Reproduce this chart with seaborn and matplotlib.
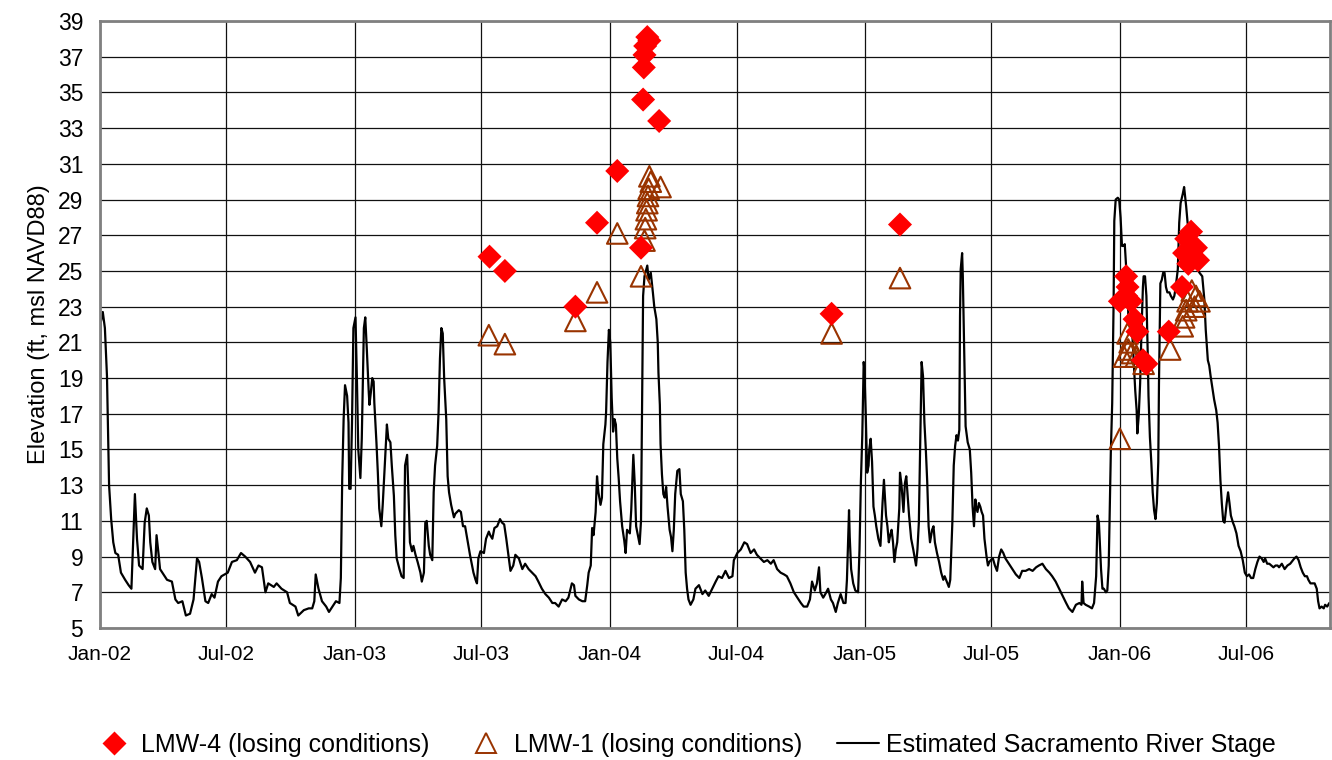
import numpy as np
import pandas as pd
import seaborn as sns
import matplotlib.pyplot as plt
from matplotlib.lines import Line2D
import matplotlib.dates as mdates

# Estimated Sacramento River stage (days after 2002-01-01, ft msl NAVD88)
stage_day = [0, 1, 4, 7, 10, 12, 13, 16, 19, 22, 26, 30, 36, 41, 45, 50, 53, 56, 61, 64, 67, 70, 72, 75, 79, 81, 84, 86, 91, 96,
             103, 108, 112, 118, 123, 129, 134, 139, 142, 146, 151, 155, 160, 164, 169, 174, 183, 189, 196, 202, 208, 215, 222,
             227, 232, 237, 241, 249, 253, 260, 268, 272, 280, 284, 292, 299, 304, 307, 309, 313, 318, 324, 328, 333, 338, 343,
             345, 347, 349,
             351, 354, 356, 357, 359, 361, 363, 366, 368, 370, 373, 375, 378, 380, 382, 385, 386, 388, 390, 392, 393, 396, 398,
             400, 403, 405, 408, 411, 413, 416, 418, 421, 423, 425, 429, 432, 435, 437, 440, 442, 444, 447, 449, 452, 455, 459,
             461, 464, 466, 468, 471, 473, 476, 478, 480, 483, 485, 487, 489, 491, 493, 496, 498, 500, 503, 507, 509, 514, 517,
             520, 523, 526, 530, 533, 535, 538, 540, 542, 545, 550, 553, 557, 559, 562, 565, 569, 573, 576, 579, 582, 585, 588,
             592, 595, 600, 605, 609, 614, 619, 624, 628, 633, 638, 643, 648, 652, 657, 662, 667, 671, 676, 679, 681, 686, 691,
             695, 698, 700, 703, 705, 707, 710, 712, 714, 717,
             719, 721, 723, 724, 725, 727, 729, 731, 733, 735, 737, 739, 741, 743, 745, 748, 751, 753, 755, 759, 761, 764, 766,
             768, 771, 773, 775, 777, 778, 780, 784, 786, 789, 792, 794, 797, 799, 800, 802, 803, 805, 807, 809, 811, 813, 816,
             818, 820, 822, 824, 827, 830, 832, 835, 837, 839, 841, 843, 846, 850, 853, 858, 863, 867, 872, 877, 882, 886, 891,
             896, 901, 906, 908, 913, 918, 923, 927, 932, 937, 941, 946, 951, 956, 961, 965, 970, 975, 980, 984, 989, 994, 999,
             1004, 1008, 1013, 1017, 1020, 1024, 1027, 1030, 1032, 1036, 1039, 1043, 1047, 1050, 1054, 1057, 1061, 1065, 1068,
             1070, 1073, 1074, 1076, 1079,
             1082, 1086, 1088, 1090, 1092, 1094, 1095, 1097, 1099, 1101, 1102, 1104, 1106, 1108, 1110, 1112, 1115, 1118, 1121,
             1123, 1124, 1126, 1128, 1130, 1132, 1134, 1136, 1138, 1140, 1142, 1145, 1146, 1148, 1151, 1153, 1155, 1157, 1159,
             1162, 1165, 1168, 1169, 1171, 1173, 1175, 1177, 1179, 1181, 1183, 1185, 1187, 1189, 1192, 1194, 1196, 1199, 1202,
             1205, 1208, 1210, 1213, 1216, 1218, 1221, 1223, 1225, 1227, 1229, 1231, 1232, 1233, 1235, 1236, 1238, 1240, 1243,
             1246, 1248, 1250, 1252, 1254, 1255, 1257, 1259, 1261, 1263, 1265, 1267, 1270, 1272, 1274, 1276, 1279, 1282, 1285,
             1288, 1291, 1294, 1297, 1302, 1307, 1312, 1317, 1321, 1326, 1331, 1336, 1341, 1345, 1350, 1355, 1360, 1364, 1369,
             1374, 1379, 1384, 1388, 1393, 1398, 1403, 1406, 1407, 1409, 1412, 1417, 1421, 1424, 1427, 1429, 1431, 1434, 1436,
             1438, 1441,
             1443, 1445, 1447, 1448, 1450, 1452, 1453, 1455, 1458, 1460, 1462, 1464, 1466, 1468, 1470, 1472, 1473, 1475, 1477,
             1479, 1481, 1483, 1485, 1486, 1488, 1490, 1492, 1494, 1495, 1497, 1499, 1501, 1502, 1504, 1506, 1508, 1510, 1512,
             1514, 1516, 1517, 1519, 1521, 1523, 1525, 1527, 1529, 1532, 1534, 1537, 1539, 1541, 1544, 1546, 1548, 1551, 1553,
             1556, 1558, 1560, 1564, 1568, 1571, 1575, 1579, 1582, 1584, 1587, 1589, 1591, 1594, 1596, 1599, 1601, 1603, 1605,
             1607, 1609, 1611, 1614, 1616, 1618, 1620, 1623, 1625, 1628, 1631, 1634, 1637, 1640, 1643, 1646, 1649, 1652, 1655,
             1658, 1661, 1664, 1667, 1669, 1672, 1675, 1678, 1681, 1684, 1687, 1689, 1693, 1697, 1701, 1705, 1709, 1711, 1714,
             1717, 1720, 1723, 1726, 1729, 1731, 1734, 1737, 1740, 1743, 1745, 1747, 1750, 1753, 1755, 1758, 1761]
stage_ft = [15.2, 22.1, 22.7, 21.8, 19.1, 15.2, 13.0, 11.1, 9.8, 9.2, 9.1, 8.1, 7.7, 7.4, 7.2, 12.5, 10.0, 8.5, 8.3, 10.9, 11.7,
            11.3, 9.8, 8.7, 8.3, 10.2, 9.1, 8.3, 8.0, 7.7, 7.6, 6.6, 6.4, 6.5, 5.7, 5.8, 6.6, 8.9, 8.7, 7.8, 6.5, 6.4, 6.9,
            6.7, 7.6, 7.9, 8.1, 8.7, 8.8, 9.2, 9.0, 8.7, 8.1, 8.5, 8.4, 7.0, 7.5, 7.3, 7.5, 7.2, 7.0, 6.4, 6.2, 5.7, 6.0, 6.1,
            6.1, 6.5, 8.0, 7.2, 6.5, 6.2, 5.9, 6.2, 6.5, 6.4, 7.8, 13.4, 16.7,
            18.6, 18.0, 16.5, 12.8, 12.8, 16.5, 21.8, 22.4, 19.0, 15.0, 13.4, 15.6, 21.8, 22.4, 20.8, 18.2, 17.5, 18.2, 19.0,
            18.8, 17.6, 15.4, 13.7, 11.7, 10.7, 11.9, 14.1, 16.4, 15.6, 15.4, 14.1, 12.4, 10.2, 8.9, 8.3, 7.9, 7.8, 14.1, 14.7,
            12.4, 9.8, 9.3, 9.6, 9.1, 8.7, 8.1, 7.6, 8.1, 10.9, 11.0, 9.6, 9.1, 8.8, 12.6, 14.1, 15.2, 17.1, 20.1, 21.8, 21.5,
            19.0, 16.7, 13.5, 12.6, 11.9, 11.2, 11.4, 11.6, 11.5, 10.7, 10.7, 10.0, 9.1, 8.5, 8.1, 7.7, 7.5, 8.9, 9.3, 9.2,
            10.0, 10.4, 10.2, 10.0, 10.6, 10.7, 11.1, 10.9, 10.8, 10.0, 9.1, 8.2, 8.5, 9.1, 8.9, 8.3, 8.6, 8.3, 8.1, 7.9, 7.6,
            7.2, 6.9, 6.7, 6.4, 6.4, 6.2, 6.6, 6.5, 6.7, 7.5, 7.4, 6.8, 6.6, 6.5, 6.5, 7.4, 8.1, 8.5, 10.6, 10.2, 11.5, 13.5,
            12.6, 11.9,
            12.3, 15.3, 16.0, 16.4, 17.1, 19.9, 21.7, 21.0, 17.9, 16.0, 16.7, 16.4, 14.5, 13.4, 12.1, 10.7, 9.9, 9.2, 10.5,
            10.3, 11.6, 14.7, 13.1, 10.7, 10.1, 9.7, 11.0, 19.3, 23.6, 24.7, 25.3, 24.5, 24.9, 23.8, 23.0, 22.3, 21.0, 19.3,
            17.5, 15.3, 13.6, 12.5, 12.3, 12.9, 11.8, 10.5, 10.1, 9.3, 10.5, 12.5, 13.8, 13.9, 12.5, 12.1, 10.5, 8.1, 7.2,
            6.6, 6.3, 6.6, 7.2, 7.4, 6.9, 7.1, 6.8, 7.2, 7.6, 7.9, 7.8, 8.2, 7.8, 7.9, 8.8, 9.2, 9.4, 9.8, 9.7, 9.2, 9.4, 9.1,
            8.9, 8.7, 8.8, 8.6, 8.8, 8.3, 8.1, 8.0, 7.9, 7.5, 7.0, 6.7, 6.4, 6.2, 6.2, 6.6, 7.6, 7.1, 7.5, 8.4, 7.0, 6.7, 6.9,
            7.2, 6.6, 6.4, 5.9, 6.4, 6.9, 6.4, 6.4, 7.7, 11.6, 10.1, 8.3, 7.5,
            7.1, 7.0, 9.4, 13.2, 15.8, 19.9, 19.5, 16.9, 13.7, 14.1, 15.0, 15.6, 14.3, 11.8, 11.3, 10.7, 10.0, 9.6, 12.0, 13.3,
            12.6, 11.3, 10.7, 9.8, 10.2, 10.5, 9.8, 8.7, 9.4, 9.8, 11.7, 13.7, 13.1, 11.5, 13.1, 13.5, 12.4, 11.3, 10.0, 9.4,
            8.7, 8.5, 9.4, 10.9, 15.4, 19.9, 19.1, 16.5, 15.0, 13.2, 10.7, 9.8, 10.5, 10.7, 9.8, 9.2, 8.7, 8.1, 7.7, 7.9, 7.6,
            7.3, 7.7, 10.9, 14.1, 15.2, 15.8, 15.5, 16.1, 22.5, 25.1, 26.0, 24.7, 20.6, 16.3, 15.4, 15.0, 13.7, 11.8, 10.7,
            12.2, 11.8, 11.5, 12.0, 11.8, 11.5, 11.3, 10.0, 9.0, 8.5, 8.7, 8.8, 8.9, 8.5, 8.2, 9.0, 9.4, 9.2, 8.9, 8.6, 8.3,
            8.0, 7.8, 8.2, 8.2, 8.3, 8.2, 8.4, 8.5, 8.6, 8.3, 8.1, 7.9, 7.6, 7.2, 6.8, 6.4, 6.1, 5.9, 6.3, 6.4, 6.3, 7.6, 6.4,
            6.3, 6.2, 6.1, 6.4, 7.9, 11.3, 10.9, 8.3, 7.2, 7.2, 7.0,
            7.1, 8.5, 12.9, 14.8, 17.6, 23.2, 27.8, 29.0, 29.1, 29.0, 28.0, 26.4, 26.4, 26.5, 25.2, 24.1, 22.6, 22.4, 22.4,
            21.3, 19.8, 18.3, 17.2, 15.9, 16.9, 18.7, 21.7, 24.1, 24.7, 24.7, 23.6, 20.2, 18.0, 15.7, 14.3, 12.6, 11.6, 11.1,
            12.0, 14.3, 18.7, 24.3, 24.5, 24.9, 24.9, 24.1, 23.8, 23.8, 23.6, 23.4, 23.6, 24.1, 25.1, 27.7, 28.8, 29.3, 29.7,
            28.6, 27.7, 27.3, 26.5, 25.8, 25.2, 24.9, 24.7, 23.4, 21.7, 20.0, 19.7, 19.1, 18.3, 17.8, 17.2, 16.5, 15.2, 13.3,
            12.0, 11.0, 10.9, 12.0, 12.6, 12.0, 11.3, 10.9, 10.7, 10.3, 9.6, 9.3, 8.8, 8.1, 7.9, 8.0, 7.8, 7.8, 8.3, 8.7, 9.0,
            8.9, 8.7, 8.9, 8.6, 8.6, 8.5, 8.4, 8.5, 8.5, 8.4, 8.6, 8.3, 8.5, 8.6, 8.8, 8.9, 9.0, 8.8, 8.4, 8.1, 7.9, 7.9, 7.7,
            7.5, 7.5, 7.5, 7.2, 6.5, 6.1, 6.2, 6.1, 6.3, 6.2, 6.4]

# LMW-4 groundwater elevations during losing conditions
lmw4_day = [558, 580, 681, 712, 741, 775, 778, 779, 780, 781, 784, 787, 801, 1048, 1146, 1461, 1470, 1470, 1472, 1477,
            1482, 1486, 1494, 1499, 1531, 1550, 1553, 1556, 1559, 1563, 1570, 1573]
lmw4_ft = [25.8, 25.0, 23.0, 27.7, 30.6, 26.3, 34.6, 36.4, 37.1, 37.6, 38.1, 37.9, 33.4, 22.6, 27.6, 23.3, 24.7, 23.6, 24.1,
           23.3, 22.3, 21.6, 20.0, 19.8, 21.6, 24.1, 26.0, 26.8, 25.4, 27.2, 26.3, 25.6]

# LMW-1 groundwater elevations during losing conditions
lmw1_day = [557, 580, 681, 712, 741, 775, 780, 781, 782, 783, 784, 785, 786, 787, 789, 803, 1048, 1146, 1461, 1467, 1472,
            1473, 1475, 1478, 1484, 1495, 1533, 1551, 1553, 1556, 1558, 1564, 1568, 1570, 1575]
lmw1_ft = [21.4, 20.9, 22.2, 23.8, 27.1, 24.7, 26.7, 27.4, 27.9, 28.4, 28.8, 29.2, 29.6, 30.3, 30.0, 29.7, 21.5, 24.6,
           15.6, 20.2, 21.5, 20.6, 21.0, 20.4, 20.2, 19.8, 20.6, 21.9, 22.4, 22.8, 23.3, 23.9, 23.0, 23.6, 23.3]

start = pd.Timestamp('2002-01-01')
stage = pd.DataFrame({'date': start + pd.to_timedelta(stage_day, unit='D'), 'elev': stage_ft})
lmw4 = pd.DataFrame({'date': start + pd.to_timedelta(lmw4_day, unit='D'), 'elev': lmw4_ft})
lmw1 = pd.DataFrame({'date': start + pd.to_timedelta(lmw1_day, unit='D'), 'elev': lmw1_ft})

sns.set_style('white')
plt.rcParams['font.family'] = ['Liberation Sans', 'DejaVu Sans']
plt.rcParams['text.color'] = 'black'
plt.rcParams['axes.labelcolor'] = 'black'
plt.rcParams['xtick.color'] = 'black'
plt.rcParams['ytick.color'] = 'black'

fig = plt.figure(figsize=(13.32, 7.6), dpi=100)
ax = fig.add_axes([100 / 1332, 1 - 628 / 760, 1230 / 1332, 607 / 760])

brown = '#993300'
sns.lineplot(data=stage, x='date', y='elev', color='black', linewidth=1.6, estimator=None, ax=ax, zorder=2)
sns.scatterplot(data=lmw1, x='date', y='elev', marker='^', s=220, facecolor='none', edgecolor=brown,
                linewidth=1.5, ax=ax, zorder=3)
sns.scatterplot(data=lmw4, x='date', y='elev', marker='D', s=150, color='red', edgecolor='none', ax=ax, zorder=4)

ax.set_xlim(start, start + pd.Timedelta(days=1762))
ax.set_ylim(5, 39)
ax.set_yticks(np.arange(5, 40, 2))
ax.xaxis.set_major_locator(mdates.MonthLocator(bymonth=[1, 7]))
ax.xaxis.set_major_formatter(mdates.DateFormatter('%b-%y'))

ax.grid(True, color='#111111', linewidth=0.9)
ax.set_axisbelow(True)
for side in ['left', 'bottom', 'top', 'right']:
    ax.spines[side].set_color('#808080')
    ax.spines[side].set_linewidth(2)
ax.tick_params(axis='y', which='major', direction='out', length=8, width=1.2, color='#808080',
               labelsize=16.5, labelcolor='black', pad=4)
ax.tick_params(axis='x', which='major', direction='out', length=6, width=1.2, color='#808080',
               labelsize=15, labelcolor='black', pad=6)
ax.set_xlabel('')
ax.set_ylabel('Elevation (ft, msl NAVD88)', fontsize=17, labelpad=6, color='black')

handles = [
    Line2D([], [], linestyle='none', marker='D', markersize=12, color='red', markeredgecolor='none'),
    Line2D([], [], linestyle='none', marker='^', markersize=14, markerfacecolor='none',
           markeredgecolor=brown, markeredgewidth=1.4),
    Line2D([], [], color='black', linewidth=1.5),
]
labels = ['LMW-4 (losing conditions)', 'LMW-1 (losing conditions)', 'Estimated Sacramento River Stage']
fig.legend(handles, labels, loc='center', bbox_to_anchor=(684 / 1332, 1 - 745 / 760), ncol=3,
           frameon=False, fontsize=18, handlelength=1.7, handletextpad=0.25, columnspacing=1.4,
           labelcolor='black')

plt.savefig('out.png', dpi=100)
